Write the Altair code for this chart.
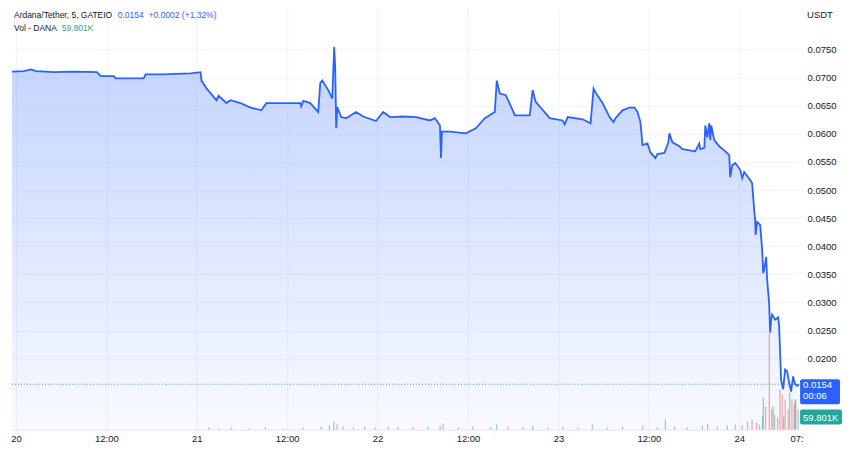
import altair as alt
import pandas as pd

# ---- price series (hours since 20th 00:00, USDT) ----
hours = [-0.53, 1.06, 1.99, 2.65, 5.03, 7.68, 10.73, 11.26, 12.98, 13.24, 16.95, 17.21, 19.6, 23.17, 24.5,
         24.63, 25.29, 26.62, 26.88, 27.94, 28.47, 29.79, 31.12, 32.57, 33.24, 37.74, 37.87, 38.14, 39.06,
         40.12, 40.39, 40.65, 41.45, 41.98, 42.24, 42.37, 42.51, 42.64, 43.17, 43.83, 45.15, 46.08, 47.8,
         48.73, 49.66, 51.38, 53.1, 54.95, 55.61, 56.28, 56.41, 56.54, 57.6, 59.72, 61.04, 62.24, 63.56,
         63.82, 64.22, 65.02, 65.94, 66.21, 68.19, 68.59, 68.99, 70.84, 72.56, 72.83, 73.23, 75.21, 76.27,
         76.67, 76.93, 77.86, 78.79, 79.32, 79.58, 80.51, 81.44, 82.1, 82.5, 82.89, 83.16, 83.82, 84.22,
         84.88, 85.14, 86.07, 86.6, 86.73, 87.13, 88.06, 88.45, 90.17, 90.7, 90.84, 91.37, 91.5, 91.76,
         92.03, 92.16, 92.29, 92.69, 93.35, 94.15, 94.68, 94.81, 95.07, 95.47, 96.13, 96.4, 96.66, 97.46,
         97.72, 97.99, 98.12, 98.18, 98.38, 98.78, 99.05, 99.18, 99.31, 99.58, 99.71, 99.97, 100.1, 100.24,
         100.37, 100.77, 101.17, 101.3, 101.56, 101.83, 102.1, 102.36, 102.62, 102.89, 103.15, 103.42,
         103.68, 103.94]
prices = [0.0711, 0.0712, 0.0715, 0.0712, 0.0710, 0.0711, 0.0710, 0.0703, 0.0703, 0.0699, 0.0699, 0.0706,
          0.0706, 0.0708, 0.0710, 0.0695, 0.0681, 0.0660, 0.0668, 0.0655, 0.0660, 0.0655, 0.0647, 0.0642,
          0.0655, 0.0655, 0.0649, 0.0659, 0.0655, 0.0639, 0.0691, 0.0695, 0.0678, 0.0663, 0.0755, 0.0719,
          0.0610, 0.0648, 0.0630, 0.0628, 0.0639, 0.0631, 0.0623, 0.0639, 0.0630, 0.0631, 0.0630, 0.0624,
          0.0628, 0.0615, 0.0557, 0.0604, 0.0604, 0.0601, 0.0610, 0.0628, 0.0639, 0.0695, 0.0672, 0.0669,
          0.0642, 0.0633, 0.0633, 0.0678, 0.0657, 0.0628, 0.0624, 0.0617, 0.0630, 0.0626, 0.0619, 0.0681,
          0.0674, 0.0655, 0.0630, 0.0621, 0.0628, 0.0642, 0.0647, 0.0647, 0.0639, 0.0621, 0.0580, 0.0583,
          0.0567, 0.0557, 0.0564, 0.0566, 0.0585, 0.0601, 0.0585, 0.0578, 0.0573, 0.0569, 0.0583, 0.0573,
          0.0575, 0.0615, 0.0594, 0.0619, 0.0589, 0.0615, 0.0589, 0.0578, 0.0569, 0.0562, 0.0523, 0.0544,
          0.0548, 0.0536, 0.0521, 0.0532, 0.0518, 0.0512, 0.0464, 0.0447, 0.0420, 0.0443, 0.0438, 0.0393,
          0.0352, 0.0358, 0.0381, 0.0340, 0.0299, 0.0246, 0.0269, 0.0278, 0.0269, 0.0273, 0.0257, 0.0162,
          0.0145, 0.0180, 0.0177, 0.0157, 0.0141, 0.0168, 0.0154, 0.0151, 0.0154]

# ---- volume (K DANA) ----
vol_hours = [25.6, 26.9, 28.6, 30.9, 33.1, 35.5, 38.1, 40.5, 41.6, 42.2, 42.6, 43.4, 44.8, 46.3, 47.7,
             49.4, 50.7, 52.7, 54.7, 56.3, 56.7, 58.7, 60.6, 63.0, 63.8, 65.3, 67.3, 68.6, 70.6, 72.6,
             74.6, 76.5, 78.5, 80.5, 83.2, 85.1, 86.2, 87.4, 89.1, 91.1, 91.8, 93.1, 94.4, 95.5, 96.4,
             97.1, 97.7, 98.3, 98.7, 99.1, 99.2, 99.5, 100.0, 100.3, 100.5, 100.7, 101.1, 101.4, 101.7,
             101.9, 102.1, 102.5, 102.7, 103.0, 103.3, 103.4, 103.5, 103.8]
vol_values = [6, 3, 6, 3, 6, 3, 6, 9, 12, 24, 15, 9, 6, 9, 6,
              9, 6, 6, 9, 12, 18, 6, 9, 6, 15, 9, 6, 12, 6, 9,
              6, 15, 6, 9, 12, 6, 30, 9, 6, 12, 18, 9, 12, 15, 12,
              24, 30, 21, 15, 39, 96, 69, 291, 60, 69, 45, 36, 120, 105,
              39, 90, 60, 111, 90, 75, 90, 90, 60]
vol_up = [1, 0, 1, 1, 0, 1, 0, 1, 1, 1, 0, 1, 0, 1, 1,
          0, 1, 0, 1, 0, 1, 1, 0, 1, 1, 0, 1, 1, 0, 1,
          0, 1, 0, 1, 0, 1, 1, 0, 1, 1, 0, 0, 1, 0, 1,
          0, 0, 0, 1, 1, 1, 0, 0, 0, 0, 1, 0, 0, 0,
          1, 0, 0, 1, 0, 0, 1, 0, 1]

x_ticks = [0, 12, 24, 36, 48, 60, 72, 84, 96]
day_labels = ["20", "21", "22", "23", "24"]
y_ticks = [0.020, 0.025, 0.030, 0.035, 0.040, 0.045, 0.050, 0.055, 0.060, 0.065, 0.070, 0.075]
last_price = 0.0154
last_volume = "59.801K"

W, H = 789, 422
XMIN, XMAX = -0.53, 103.95
YMIN, YMAX = 0.00733, 0.08234
FONT = "Liberation Sans"
FS = 9.5
TXT = "#131722"
BLUE = "#2962ff"
TEAL = "#26a69a"

price_df = pd.DataFrame({"h": hours, "p": prices})
vol_df = pd.DataFrame({"h": vol_hours, "v": vol_values,
                       "dir": ["up" if u else "down" for u in vol_up]})
one = pd.DataFrame({"a": [0]})

label_expr = ("datum.value % 24 == 0 ? " + str(day_labels) + "[datum.value / 24] : '12:00'")

xscale = alt.Scale(domain=[XMIN, XMAX], nice=False, zero=False, padding=0)
xaxis = alt.Axis(values=x_ticks, title=None, grid=True, gridColor="#f0f3fa", ticks=False,
                 domain=True, domainColor="#e0e3eb", labelFont=FONT, labelFontSize=FS,
                 labelColor=TXT, labelPadding=4, labelExpr=label_expr)
yscale = alt.Scale(domain=[YMIN, YMAX], nice=False, zero=False, padding=0)
yaxis = alt.Axis(orient="right", values=y_ticks, format=".4f", title=None, grid=True,
                 gridColor="#f0f3fa", ticks=False, domain=False, labelFont=FONT, labelFontSize=FS,
                 labelColor=TXT, labelPadding=8)

X = alt.X("h:Q", scale=xscale, axis=xaxis)

def Yd(v):
    return alt.Y(datum=v, scale=yscale, axis=yaxis)

grad = alt.Gradient(gradient="linear",
                    stops=[alt.GradientStop(color="rgba(41,98,255,0.28)", offset=0),
                           alt.GradientStop(color="rgba(41,98,255,0.03)", offset=1)],
                    x1=0, x2=0, y1=0, y2=1)

area = alt.Chart(price_df).mark_area(color=grad).encode(
    x=X, y=alt.Y("p:Q", scale=yscale, axis=yaxis), y2=alt.datum(YMIN))
line = alt.Chart(price_df).mark_line(color=BLUE, strokeWidth=1.8).encode(
    x=X, y=alt.Y("p:Q", scale=yscale, axis=yaxis))
last_rule = alt.Chart(one).mark_rule(color=BLUE, strokeDash=[1, 2], strokeWidth=1, opacity=0.8).encode(
    x=alt.value(0), x2=alt.value(W), y=Yd(last_price))
price_box = alt.Chart(one).mark_rect(color=BLUE, yOffset=-5, y2Offset=20, cornerRadius=2).encode(
    x=alt.value(W + 1), x2=alt.value(W + 41), y=Yd(last_price), y2=alt.datum(last_price))
price_txt = alt.Chart(one).mark_text(color="white", font=FONT, fontSize=FS, align="left",
                                     baseline="middle", yOffset=1).encode(
    x=alt.value(W + 4), y=Yd(last_price), text=alt.value(f"{last_price:.4f}"))
time_txt = alt.Chart(one).mark_text(color="white", font=FONT, fontSize=FS, align="left",
                                    baseline="middle", yOffset=12).encode(
    x=alt.value(W + 4), y=Yd(last_price), text=alt.value("00:06"))

price_layer = alt.layer(area, line, last_rule, price_box, price_txt, time_txt)

vol_bars = alt.Chart(vol_df).mark_bar(width=1.3, opacity=0.5).encode(
    x=X,
    y=alt.Y("v:Q", scale=alt.Scale(domain=[0, 1266], nice=False), axis=None),
    color=alt.Color("dir:N", scale=alt.Scale(domain=["up", "down"], range=[TEAL, "#ef5350"]),
                    legend=None))

def label(text, x, y, color, size=FS, align="left"):
    return alt.Chart(one).mark_text(text=text, color=color, font=FONT, fontSize=size,
                                    align=align, baseline="middle").encode(
        x=alt.value(x), y=alt.value(y))

vol_box = alt.Chart(one).mark_rect(color=TEAL, cornerRadius=2).encode(
    x=alt.value(W + 1), x2=alt.value(W + 43), y=alt.value(402), y2=alt.value(417))

texts = alt.layer(
    label("Ardana/Tether, 5, GATEIO", 2, 7, TXT, 8.5),
    label("0.0154", 106, 7, BLUE, 8.5),
    label("+0.0002 (+1.32%)", 137, 7, BLUE, 8.5),
    label("Vol - DANA", 2, 20, TXT, 8.5),
    label(last_volume, 50, 20, TEAL, 8.5),
    label("USDT", W + 8, 6, TXT),
    label("07:", 787, H + 10, TXT, align="center"),
    vol_box,
    label(last_volume, W + 4, 410, "white"),
)

chart = alt.layer(price_layer, vol_bars, texts).resolve_scale(
    y="independent", color="independent"
).properties(width=W, height=H, padding=0).configure_view(stroke=None)

chart.save("out.html", embed_options={"renderer": "svg", "actions": False})
